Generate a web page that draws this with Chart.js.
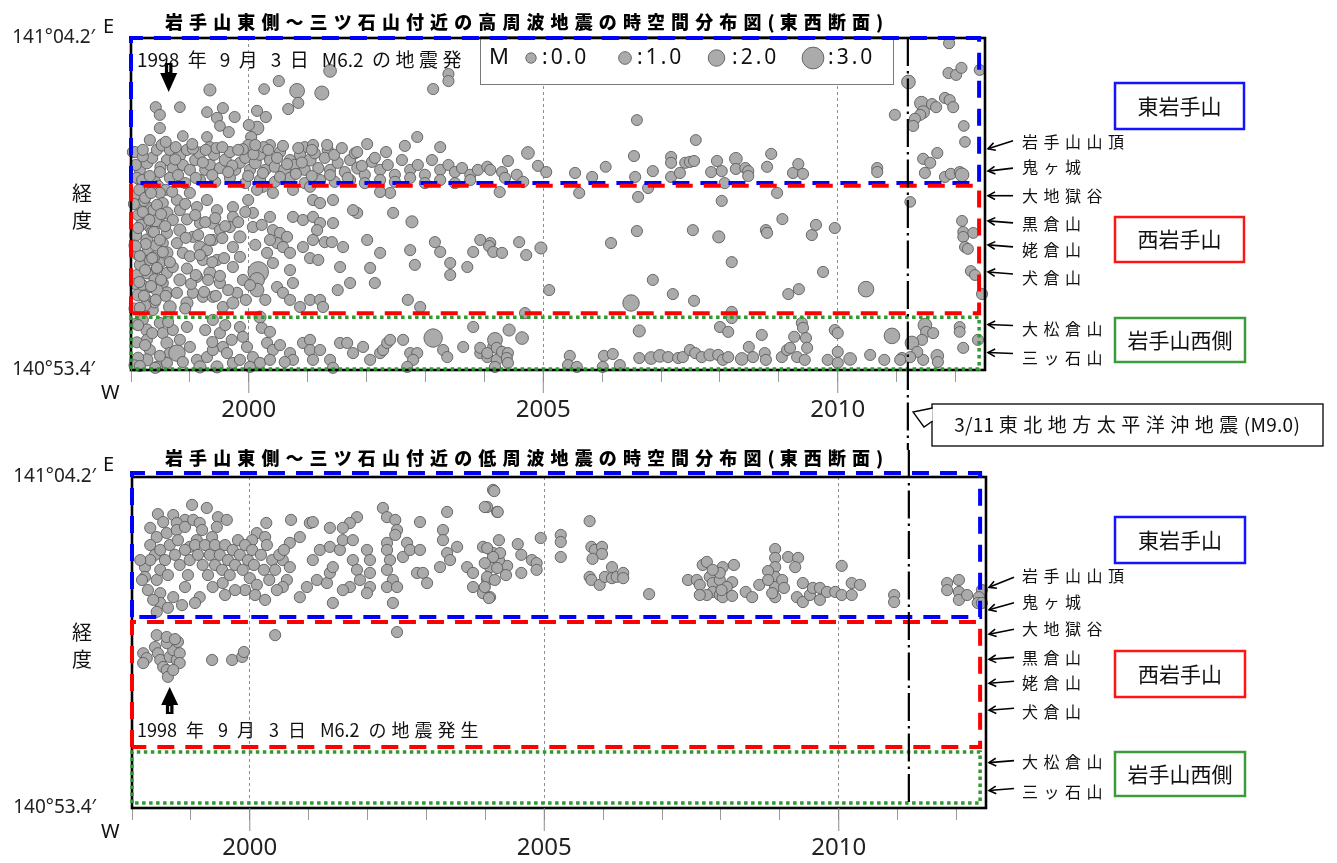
<!DOCTYPE html>
<html lang="ja">
<head>
<meta charset="utf-8">
<title>岩手山東側～三ツ石山付近の地震の時空間分布図</title>
<script src="https://cdn.jsdelivr.net/npm/chart.js@4.4.1/dist/chart.umd.min.js"></script>
<style>
  html, body { margin:0; padding:0; background:#fff; }
  #wrap { position:relative; width:1337px; height:863px; overflow:hidden; background:#fff; }
  #wrap canvas { position:absolute; left:0; }
  #c1 { top:0; width:1337px; height:450px; }
  #c2 { top:440px; width:1337px; height:423px; }
</style>
</head>
<body>
<div id="wrap">
  <canvas id="c1" width="1337" height="450"></canvas>
  <canvas id="c2" width="1337" height="423"></canvas>
</div>
<script>
// ---------------- texts / categories ----------------
const hfTitle = '岩手山東側～三ツ石山付近の高周波地震の時空間分布図(東西断面)';
const lfTitle = '岩手山東側～三ツ石山付近の低周波地震の時空間分布図(東西断面)';
const yearTicks = [1998,1999,2000,2001,2002,2003,2004,2005,2006,2007,2008,2009,2010,2011,2012];
const majorYears = [2000, 2005, 2010];
const lonTickValues = [53.4, 64.2];               // arc-minutes east of 140°
const lonTickLabels = ['140°53.4′', '141°04.2′'];
const mtnNames = ['岩手山山頂','鬼ヶ城','大地獄谷','黒倉山','姥倉山','犬倉山','大松倉山','三ッ石山'];
const mtnLon = [60.60, 59.87, 59.07, 58.25, 57.47, 56.59, 54.88, 53.97];
const regionNames = ['東岩手山','西岩手山','岩手山西側'];
const hfRegionLon = [[59.48, 64.20], [55.25, 59.39], [53.43, 55.12]];
const lfRegionLon = [[59.63, 64.33], [55.39, 59.47], [53.56, 55.23]];
const regionEdgeYear = 2012.40;
const quakeDate = 2011.19;
const quakeLabel = '3/11 東北地方太平洋沖地震(M9.0)';
const m62Date = 1998.64;
const m62LabelTop = '1998 年 9 月 3 日 M6.2 の地震発';
const m62LabelBottom = '1998 年 9 月 3 日 M6.2 の地震発生';
const legendMags = [0, 1, 2, 3];
const legendLabels = [':0.0', ':1.0', ':2.0', ':3.0'];

// ---------------- high-frequency events [year, lon(′ E of 140°), M] ----------------
const hfUpper = [
[2001.38,63.13,1.0],[2000.51,62.80,0.4],[2000.26,62.54,0.2],[2000.82,62.48,1.6],[2001.24,62.41,1.4],[1999.34,62.51,0.8],[2003.13,62.54,0.4],[2003.39,63.03,0.4],[2003.39,62.80,0.4],[1998.42,61.95,0.4],
[1998.49,61.70,0.4],[1998.83,61.95,0.2],[1998.49,61.27,0.4],[1999.29,61.79,0.2],[1999.46,61.60,0.4],[1999.56,61.92,0.4],[1999.76,61.63,0.4],[1999.51,61.34,0.2],[2000.14,61.83,0.4],[2000.29,61.63,0.4],
[2000.14,61.27,1.3],[2000.00,61.37,0.4],[2000.04,60.98,0.4],[2000.67,61.89,0.4],[2000.84,62.09,0.4],[1998.88,61.01,0.2],[1999.66,61.14,0.4],[1999.29,60.98,0.2],[2006.59,61.53,0.3],[2007.59,60.88,0.3],
[1999.34,60.65,0.4],[2000.36,60.72,0.3],[2000.95,60.65,0.4],[2001.09,60.72,0.4],[2001.34,60.56,0.4],[2002.01,60.75,0.4],[2002.65,60.69,0.4],[2002.86,60.98,0.4],[2003.25,60.65,0.4],[1999.99,60.72,0.4],[1998.03,60.49,0.3]
];
const hfEastBand = [
[1998.07,60.49,0.4],[1998.15,59.91,0.4],[1998.27,60.14,0.8],[1998.36,60.30,0.4],[1998.44,60.56,0.4],[1998.53,60.72,0.8],[1998.61,60.23,0.4],[1998.66,60.56,0.4],[1998.71,59.97,0.4],[1998.83,60.40,0.8],
[1998.88,60.07,0.4],[1998.95,60.56,0.4],[1999.00,59.91,0.4],[1999.09,60.23,0.4],[1999.17,60.46,0.8],[1999.26,59.91,0.4],[1999.34,60.07,0.4],[1999.41,60.40,0.4],[1999.51,59.97,0.4],[1999.60,60.23,0.8],
[1999.68,60.49,0.4],[1999.77,59.91,0.4],[1999.85,60.14,0.4],[1999.94,60.30,0.4],[2000.02,59.91,0.4],[2000.11,60.14,0.8],[2000.19,60.40,0.4],[2000.28,59.91,0.4],[2000.36,60.23,0.4],[2000.44,60.01,0.4],
[2000.53,60.49,0.4],[2000.61,59.91,0.8],[2000.70,60.23,0.4],[2000.78,60.07,0.4],[2000.87,60.40,0.4],[2000.95,59.91,0.4],[2001.04,60.23,0.8],[2001.18,59.97,0.4],[2001.29,60.30,0.4],[2001.38,59.91,0.4],
[2001.51,60.14,0.4],[2001.63,59.84,0.4],[2001.72,60.23,0.4],[2001.85,59.97,0.8],[2001.97,59.75,0.4],[2002.09,60.17,0.4],[2002.23,59.91,0.4],[2002.36,60.07,0.4],[2002.48,59.75,0.4],[2002.60,60.23,0.4],
[2002.74,59.91,0.4],[2002.87,60.07,0.4],[2002.99,59.75,0.4],[2003.11,60.23,0.4],[2003.25,59.91,0.4],[2003.39,60.07,0.4],[2003.50,59.84,0.4],[2003.62,59.97,0.4],[2003.76,59.75,0.4],[2003.89,59.91,0.4],
[1998.15,59.58,0.4],[1998.41,59.52,0.4],[1998.66,59.65,0.4],[1998.92,59.48,0.4],[1999.17,59.58,0.4],[1999.43,59.52,0.4],[1999.68,59.65,0.4],[1999.94,59.48,0.4],[2000.19,59.58,0.4],[2000.44,59.52,0.4],
[2000.70,59.65,0.4],[2000.95,59.48,0.4],[2001.21,59.58,0.4],[2001.46,59.52,0.4],[2001.72,59.58,0.4],[2001.97,59.48,0.4],[2002.23,59.58,0.4],[2002.48,59.52,0.4],[2002.74,59.65,0.4],[2002.99,59.48,0.4],
[2003.25,59.58,0.4],[2003.50,59.48,0.4],[2003.76,59.58,0.4],
[1998.20,60.35,0.4],[1998.50,60.00,0.4],[1998.75,60.25,0.4],[1999.05,60.60,0.4],[1999.22,60.15,0.4],[1999.45,60.62,0.4],[1999.72,60.05,0.4],[1999.90,60.58,0.4],[2000.08,60.42,0.4],[2000.25,60.65,0.4],
[2000.48,60.30,0.4],[2000.65,60.10,0.4],[2000.90,60.15,0.4],[2001.12,60.45,0.4],[2001.45,60.40,0.4],[2001.80,60.45,0.4],
[2004.74,60.46,1.0],[2004.40,60.20,0.4],[2004.91,60.04,0.4],[2005.05,59.84,0.4],[2004.05,60.01,0.4],[2004.10,59.91,0.4],[2004.30,59.84,0.4],[2004.35,59.65,0.4],[2004.55,59.75,0.4],[2004.66,59.52,0.4],
[2004.26,59.19,0.4],[2005.54,59.81,0.4],[2005.61,59.16,0.4],[2005.83,59.68,0.4],[2006.06,60.01,0.3],[2006.54,60.36,0.4],[2006.56,59.68,0.4],[2006.61,59.03,0.4],[2006.59,57.92,0.4],[2006.78,59.32,0.4],
[2006.86,59.87,0.4],[2007.17,60.33,0.4],[2007.17,60.14,0.4],[2007.17,59.68,0.4],[2007.32,59.81,0.4],[2007.41,60.14,0.4],[2007.49,60.17,0.4],[2007.56,60.20,0.4],[2007.85,59.84,0.4],[2007.95,60.20,0.4],
[2008.03,59.87,0.4],[2008.08,59.48,0.4],[2008.03,58.90,0.4],[2008.27,60.27,1.0],[2008.27,59.94,0.4],[2008.43,59.97,0.4],[2008.48,59.87,0.4],[2008.48,59.71,0.4],[2008.80,60.01,0.4],[2008.87,60.43,0.4],
[2008.97,59.16,0.4],[2009.06,58.31,0.4],[2009.24,59.81,0.4],[2009.33,60.10,0.4],[2009.41,59.78,0.4],[2010.67,59.97,0.4],[2010.67,59.84,0.4]
];
const hfEastBandDense = [
[1998.08,60.07,0.4],[1998.20,60.56,0.4],[1998.32,60.88,0.4],[1998.59,60.82,0.4],[1998.76,60.65,0.4],[1999.04,60.75,0.4],[1999.27,60.56,0.4],[1999.55,60.65,0.4],[1999.82,60.56,0.4],[2000.11,60.72,0.4],
[2000.33,60.56,0.4],[2000.58,60.69,0.4],[2000.84,60.62,0.4],[2001.07,60.56,0.4],[2001.33,60.72,0.4],[2001.58,60.62,0.4],[2001.84,60.49,0.4],[1998.10,59.65,0.4],[1998.49,59.84,0.4],[1998.80,59.74,0.4],
[1999.10,59.65,0.4],[1999.38,59.74,0.4],[1999.65,59.84,0.4],[1999.99,59.71,0.4],[2000.24,59.81,0.4],[2000.53,59.68,0.4],[2000.80,59.78,0.4],[2001.07,59.71,0.4],[2001.38,59.74,0.4],[2001.68,59.65,0.4],
[2001.92,60.04,0.4],[2002.14,60.30,0.4],[2002.33,60.49,0.4],[1998.19,59.58,0.4],[1998.46,59.39,0.4],[1998.59,59.26,0.4],[1998.32,59.71,0.4]
];
const hfWestIwate = [
[1998.20,59.03,0.4],[1998.27,58.70,0.8],[1998.29,58.38,0.4],[1998.32,58.05,0.4],[1998.27,57.63,0.8],[1998.29,57.30,0.4],[1998.32,56.98,0.4],[1998.27,56.56,0.8],[1998.32,56.10,0.4],[1998.27,55.68,0.4],[1998.37,55.35,0.4],
[1998.10,59.10,0.4],[1998.12,58.44,0.4],[1998.08,57.79,0.8],[1998.12,57.14,0.4],[1998.10,56.49,0.4],[1998.12,55.84,0.8],[1998.15,58.77,0.4],[1998.17,58.12,0.4],[1998.15,56.82,0.4],[1998.19,56.17,0.4],
[1998.49,59.16,0.4],[1998.54,58.83,0.4],[1998.61,58.51,0.8],[1998.49,58.18,0.4],[1998.61,57.86,0.4],[1998.54,57.53,0.4],[1998.61,57.21,0.8],[1998.49,56.88,0.4],[1998.61,56.56,0.4],[1998.54,56.23,0.4],[1998.61,55.91,0.8],[1998.66,55.45,1.0],
[1998.78,58.93,0.4],[1998.83,58.60,0.4],[1998.71,58.28,0.4],[1998.83,57.95,0.8],[1998.78,57.53,0.4],[1998.88,57.21,0.4],[1998.71,56.75,0.4],[1998.83,56.33,0.8],[1998.78,55.91,0.4],[1998.95,55.58,0.8],
[1999.00,59.16,0.4],[1999.12,58.70,0.4],[1999.17,58.18,0.4],[1999.05,57.73,0.4],[1999.17,57.40,0.8],[1999.22,56.98,0.4],[1999.12,56.43,0.4],[1999.05,55.91,0.4],[1999.22,55.78,0.4],
[1999.29,58.93,0.4],[1999.46,58.60,0.4],[1999.39,58.18,0.8],[1999.51,57.95,0.4],[1999.39,57.63,0.4],[1999.29,57.30,0.4],[1999.46,56.98,0.4],[1999.34,56.56,0.8],[1999.51,56.23,0.4],[1999.39,55.78,0.4],[1999.56,55.45,0.4],
[1999.73,58.70,0.4],[1999.73,58.38,0.4],[1999.68,58.05,0.4],[1999.85,57.73,0.8],[1999.73,57.40,0.4],[1999.85,57.08,0.4],[1999.73,56.75,0.4],[1999.90,56.33,0.4],[1999.80,55.91,0.4],[1999.73,55.58,0.8],
[1999.99,58.93,0.4],[2000.07,58.51,0.4],[2000.07,58.05,0.4],[2000.16,56.59,2.8],[2000.14,56.33,1.6],[2000.14,56.00,1.3],[2000.19,55.12,0.8],
[2000.24,59.36,0.4],[2000.41,59.16,0.4],[2000.36,58.38,0.4],[2000.41,57.95,0.4],[2000.53,57.86,0.4],[2000.65,57.73,0.4],[2000.48,57.53,0.4],[2000.58,57.40,0.4],[2000.70,57.21,0.4],[2000.31,57.21,0.4],
[2000.41,56.88,0.4],[2000.70,56.65,0.4],[2000.75,56.23,0.4],[2000.48,56.10,0.4],[2000.58,55.91,0.4],[2000.70,55.68,0.4],[2000.87,55.45,0.4],[2001.04,55.68,0.4],[2001.21,55.68,0.4],[2001.26,55.45,0.4],
[2000.75,58.38,0.4],[2000.92,58.28,0.4],[2001.09,58.38,0.4],[2001.21,58.18,0.4],[2001.16,57.95,0.4],[2001.09,57.63,0.4],[2001.43,58.18,0.4],[2001.84,58.51,0.4],[2001.77,58.60,0.4],[2002.01,57.63,0.4],[2002.45,58.51,0.4],[2002.77,58.22,0.8],
[2001.60,57.40,0.4],[2001.55,56.75,0.4],[2001.72,56.23,0.4],[2002.23,57.21,0.4],[2002.06,56.72,0.4],[2002.14,56.23,0.4],[2001.51,56.00,0.4],[2002.74,57.30,0.4],[2002.82,56.82,0.4],[2002.70,55.68,0.4],[2002.91,55.45,0.4],
[2000.92,57.40,0.4],[2001.04,57.04,0.4],[2001.18,56.98,0.4],[2001.29,57.56,0.4],[2001.41,57.56,0.4],[2003.16,57.56,0.4],[2003.25,57.24,0.4],[2003.42,56.88,0.4],[2003.42,56.49,0.4],[2003.71,56.75,0.4],[2003.81,57.24,0.4],[2004.10,57.53,0.4],
[2002.40,59.16,0.4],[2002.23,59.19,0.4],[2000.14,59.26,0.4],[2000.75,59.26,0.4],[2001.04,59.36,0.4],[2001.09,58.93,0.4],[2001.21,58.83,0.4],[2001.43,58.93,0.4],
[1998.22,58.90,0.4],[1998.38,58.60,0.4],[1998.42,58.25,0.8],[1998.36,57.90,0.4],[1998.42,57.45,0.4],[1998.38,57.05,0.8],[1998.44,56.70,0.4],[1998.40,56.35,0.4],[1998.44,56.00,0.8],[1998.40,55.60,0.4],[1998.24,55.50,0.4],[1998.06,55.40,0.4],
[1998.05,58.80,0.4],[1998.06,57.45,0.4],[1998.07,56.20,0.4],[1998.30,59.25,0.4],[1998.70,59.20,0.4],[1998.92,58.80,0.4],[1998.95,58.30,0.4],[1998.93,57.70,0.4],[1999.00,57.10,0.4],[1998.95,56.70,0.4],[1999.02,56.20,0.4],[1998.92,55.40,0.4],
[2003.93,57.63,0.4],[2004.08,57.43,0.4],[2004.15,57.24,0.4],[2004.30,57.21,0.4],[2004.59,57.56,0.4],[2004.71,57.14,0.4],[2004.96,57.37,0.8],[2006.15,57.53,0.4],[2005.10,56.00,0.4],[2006.86,56.33,0.4],
[2007.20,55.87,0.4],[2007.56,55.65,0.4],[2006.49,55.58,2.0],[2007.54,57.95,0.4],[2007.98,57.73,0.8],[2008.20,56.91,0.4],[2008.78,57.95,0.4],[2008.80,57.86,0.4],[2009.56,57.79,0.4],[2009.63,58.12,0.4],
[2009.95,58.02,0.4],[2009.75,56.59,0.4],[2009.16,55.87,0.4],[2009.34,56.03,0.4],[2010.48,56.03,1.8],[2004.69,55.25,0.4],[2008.20,55.29,0.4]
];
const hfWestIwateDense = [
[1998.14,59.26,0.4],[1998.24,59.00,0.4],[1998.34,59.16,0.4],[1998.44,58.77,0.4],[1998.20,58.54,0.4],[1998.31,58.28,0.4],[1998.51,58.47,0.4],[1998.12,58.02,0.4],[1998.39,57.89,0.4],[1998.25,57.50,0.4],
[1998.49,57.63,0.4],[1998.15,57.11,0.4],[1998.36,57.04,0.4],[1998.54,57.24,0.4],[1998.24,56.65,0.4],[1998.44,56.72,0.4],[1998.14,56.26,0.4],[1998.34,56.13,0.4],[1998.51,56.33,0.4],[1998.22,55.81,0.4],
[1998.42,55.68,0.4],[1998.15,55.42,0.4],[1998.59,55.81,0.4],[1998.58,58.08,0.4],[1998.66,56.91,0.4],[1998.08,57.43,0.4],
[1999.09,58.44,0.4],[1999.26,58.21,0.4],[1999.43,58.34,0.4],[1999.60,58.08,0.4],[1999.14,57.79,0.4],[1999.34,57.63,0.4],[1999.55,57.69,0.4],[1999.17,57.14,0.4],[1999.38,56.91,0.4],[1999.58,57.04,0.4],
[1999.10,56.49,0.4],[1999.31,56.33,0.4],[1999.51,56.46,0.4],[1999.24,55.94,0.4],[1999.44,55.81,0.4],[1999.65,56.00,0.4],[1999.94,58.54,0.4],[1999.82,58.21,0.4],[2000.22,58.12,0.4],[2000.36,57.63,0.4],
[2000.11,57.47,0.4],[1999.95,55.68,0.4],[2000.02,56.16,0.4],[2000.28,55.68,0.4]
];
const hfWestSide = [
[1998.20,55.03,0.4],[1998.27,54.70,0.8],[1998.27,54.38,0.4],[1998.32,54.05,0.4],[1998.27,53.73,0.8],[1998.44,53.50,0.4],[1998.49,54.93,0.4],[1998.54,54.60,0.4],[1998.61,54.28,0.8],[1998.66,53.95,0.4],
[1998.61,53.63,0.4],[1998.71,54.70,0.4],[1998.78,53.95,2.0],[1998.95,54.80,0.4],[1999.00,54.15,0.4],[1999.12,53.73,0.4],[1999.17,53.50,0.8],[1999.29,53.82,0.4],[1999.39,55.03,0.4],[1999.51,54.60,0.4],
[1999.56,54.15,0.4],[1999.39,54.05,0.4],[1999.63,53.95,0.4],[1999.46,53.50,0.8],[1999.73,53.63,0.4],[1999.85,54.80,0.4],[1999.90,54.48,0.4],[1999.97,54.15,0.4],[2000.07,53.82,0.4],[2000.19,53.63,0.4],
[2000.02,53.50,0.4],[2000.31,54.28,0.4],[2000.41,54.05,0.4],[2000.36,53.73,0.4],[2000.70,53.95,0.4],[2000.75,53.73,0.4],[2000.92,54.28,0.4],[2001.04,54.38,0.4],[2001.04,54.05,0.4],[2001.09,53.73,0.4],
[2001.21,54.05,0.4],[2001.38,53.73,0.4],[2001.55,54.28,0.4],[2001.67,54.28,0.4],[2001.77,53.95,0.4],[2001.94,54.15,0.4],[2002.06,53.73,0.4],[2002.23,53.95,0.4],[2002.28,54.05,0.4],[2002.35,54.28,0.4],
[2002.40,54.38,0.4],[2002.62,54.38,0.4],[2002.74,53.95,0.4],[2002.86,53.95,0.4],[2002.79,53.73,0.4],[2002.69,53.50,0.4],[2003.13,54.44,2.4],[2003.30,54.05,0.4],[2003.37,53.82,0.4],[2003.64,54.15,0.4],
[2003.81,54.80,0.4],[2003.93,53.95,0.4],[2004.05,53.82,0.4],[2004.15,54.15,0.4],[2004.21,53.73,0.4],[2001.43,53.47,0.4],
[1998.08,54.90,0.4],[1998.10,54.30,0.4],[1998.12,53.80,0.4],[1998.06,53.55,0.4],
[1998.12,54.86,0.4],[1998.24,54.21,0.4],[1998.36,54.60,0.4],[1998.49,53.86,0.4],[1998.41,53.47,0.4],[1998.63,54.96,0.4],[1998.83,54.38,0.4],[1998.88,53.66,0.4],[1998.15,53.53,0.4],[1999.26,54.70,0.4],
[1999.38,54.31,0.4],[1999.60,54.86,0.4],[1999.71,54.38,0.4],[2000.22,54.77,0.4],[2000.36,54.64,0.4],[2000.53,54.21,0.4],[2000.61,53.66,0.4],[1999.85,53.73,0.4],
[2004.42,54.70,0.8],[2004.18,54.38,1.6],[2004.64,54.44,1.0],[2003.93,54.12,0.4],[2004.05,53.95,0.4],[2004.21,54.12,0.4],[2004.30,53.99,0.4],[2004.40,53.95,0.4],[2004.38,53.79,0.4],[2004.40,53.63,0.4],
[2004.18,53.50,0.4],[2005.45,53.86,0.4],[2005.42,53.56,0.4],[2005.57,53.50,0.4],[2006.03,53.86,0.4],[2006.18,53.92,0.4],[2006.30,53.56,0.4],[2006.01,53.50,0.4],[2006.63,54.67,0.8],[2006.63,53.79,0.4],
[2006.83,53.79,1.0],[2006.98,53.86,1.0],[2007.12,53.82,0.4],[2007.29,53.79,0.4],[2007.37,53.82,0.4],[2007.49,54.05,0.4],[2007.58,53.95,0.4],[2007.69,53.82,0.4],[2007.83,53.89,0.8],[2007.97,53.89,0.4],
[2008.05,53.73,0.4],[2008.14,53.82,0.4],[2008.00,54.80,0.4],[2008.14,54.64,0.4],[2008.20,55.09,0.4],[2008.37,53.76,1.0],[2008.49,54.15,0.4],[2008.56,53.82,0.4],[2008.71,54.54,0.4],[2008.76,53.95,0.4],
[2008.78,53.73,0.4],[2009.05,53.82,0.4],[2009.14,54.05,0.4],[2009.19,54.12,0.4],[2009.26,54.48,0.4],[2009.31,53.82,0.4],[2009.39,54.93,0.4],[2009.41,54.77,0.4],[2009.46,54.44,0.4],[2009.48,54.12,0.4],
[2009.44,53.73,0.4],[2009.83,53.73,0.4],[2009.95,54.70,0.4],[2010.00,54.60,0.4],[2010.00,53.99,0.4],[2010.00,53.63,0.4],[2010.21,53.76,1.0],[2010.55,53.89,0.4],[2011.09,53.79,0.4]
];
const hfLate = [
[2011.89,64.03,0.4],[2012.41,63.16,0.3],[2011.88,63.06,0.4],[2012.01,63.00,0.4],[2012.10,63.23,0.4],[2011.20,62.77,1.3],[2011.42,62.08,1.3],[2011.60,62.05,0.4],[2011.67,61.95,0.4],[2011.82,62.25,0.4],
[2011.90,62.18,0.4],[2011.96,61.95,0.4],[2010.97,61.70,0.4],[2011.45,61.79,1.0],[2011.40,61.70,0.4],[2011.31,61.57,0.4],[2011.28,61.34,0.4],[2012.14,61.34,0.2],[2012.16,60.82,0.2],[2011.69,60.46,0.4],
[2011.45,60.27,0.4],[2011.57,60.14,0.4],[2011.48,59.81,0.4],[2011.82,59.68,0.4],[2011.92,59.78,0.4],[2012.07,59.84,0.4],[2012.11,59.75,1.3],[2011.23,58.87,0.2],[2012.11,58.25,0.3],[2012.13,57.89,0.3],
[2012.13,57.73,0.3],[2012.30,57.86,0.3],[2012.16,57.40,0.3],[2012.21,57.34,0.3],[2012.26,56.62,0.3],[2012.33,56.49,0.3],[2012.45,55.87,0.4],[2011.48,54.86,1.3],[2011.50,54.64,0.4],[2011.62,54.60,0.4],
[2011.43,54.38,0.4],[2011.26,54.28,1.3],[2010.92,54.51,1.8],[2012.07,54.80,0.3],[2012.07,54.64,0.3],[2012.13,54.12,0.4],[2012.38,54.38,0.4],[2011.69,53.86,1.0],[2011.70,53.66,0.4],[2011.45,53.73,0.4],
[2011.35,53.99,0.4],[2011.23,53.82,0.4],[2011.06,53.73,0.4],[2010.79,53.73,0.4]
];

// ---------------- low-frequency events [year, lon] ----------------
const lfEast = [
[1999.02,63.29],[1999.27,63.19],[1998.44,62.99],[1998.70,62.96],[1998.90,62.80],[1998.76,62.70],[1998.53,62.73],[1998.31,62.54],[1998.42,62.24],[1998.59,62.37],
[1998.76,62.47],[1998.90,62.57],[1999.04,62.80],[1999.15,62.70],[1999.46,62.89],[1999.61,62.80],[1999.44,62.57],[1999.36,62.24],[1999.19,62.47],[1999.10,62.14],
[1998.98,61.92],[1998.22,61.26],[1998.22,60.94],[1998.42,60.84],[1998.48,60.41],[1998.48,60.09],[1998.70,60.28],[1998.90,60.61],[1999.15,60.28],[1999.37,60.61],
[1999.54,60.74],[2000.28,62.70],[2000.12,62.37],[2000.04,62.14],[2000.26,62.24],[2000.70,62.80],[2001.02,62.70],[2001.07,62.73],[2000.85,62.24],[2000.68,62.05],
[2000.56,61.49],[2000.68,61.26],[2000.63,60.84],[2000.56,60.61],[2000.85,60.28],[2000.97,60.61],[2001.14,60.84],[2001.31,60.74],[2001.36,61.07],[2001.41,61.26],
[2001.07,61.49],[2001.19,61.82],[2001.36,61.92],[2001.53,61.82],[2001.58,62.14],[2001.75,62.14],[2001.82,62.89],[2001.70,62.70],[2001.58,62.54],[2001.36,62.54],
[2001.41,60.09],[2001.75,61.49],[2001.82,61.17],[2001.87,60.84],[2001.70,60.61],[2001.58,60.51],[2001.99,61.82],[2002.04,61.49],[2002.04,61.07],[2002.04,60.61],
[2001.99,60.41],[2002.26,63.19],[2002.33,62.89],[2002.47,62.80],[2002.50,62.47],[2002.47,62.31],[2002.33,62.05],[2002.33,61.82],[2002.38,61.49],[2002.33,61.17],
[2002.43,60.84],[2002.33,60.61],[2002.50,60.61],[2002.43,60.09],[2002.67,62.05],[2002.60,61.59],[2002.72,61.82],[2002.89,61.82],[2002.89,62.73],[2002.84,61.07],
[2002.94,61.07],[2003.01,60.74],[2003.35,63.06],[2003.28,62.47],[2003.23,61.26],[2003.28,62.14],[2003.35,61.72],[2003.40,61.49],[2003.52,61.92],[2003.69,61.26],
[2003.79,61.07],[2003.79,60.61],[2003.96,60.41],[2004.03,60.84],[2004.08,61.26],[2004.13,61.72],[2003.96,61.92],[2004.03,63.22],[2004.13,63.78],[2004.20,63.06],
[2004.08,60.28],[2004.23,62.14],
[1998.31,61.98],[1998.39,61.66],[1998.31,61.49],[1998.48,61.82],[1998.56,61.49],[1998.64,61.98],[1998.48,61.17],[1998.61,61.00],[1998.73,61.66],[1998.81,61.33],
[1998.78,62.14],[1998.90,61.82],[1998.98,61.49],[1998.95,61.00],[1999.07,61.98],[1999.12,61.66],[1999.20,61.33],[1999.24,61.98],[1999.29,61.00],[1999.32,61.66],
[1999.41,61.33],[1999.41,61.98],[1999.49,61.66],[1999.53,61.17],[1999.58,61.98],[1999.63,61.49],[1999.66,61.00],[1999.71,61.82],[1999.75,61.33],[1999.80,62.14],
[1999.83,61.66],[1999.88,61.17],[1999.92,61.98],[1999.97,61.49],[2000.00,60.90],[2000.04,61.82],[2000.07,61.33],[2000.12,60.68],[2000.19,61.66],[2000.24,61.17],
[2000.29,61.98],[2000.33,60.84],[2000.38,61.49],[2000.43,61.17],[2000.50,61.66],[2000.46,60.51],[2000.58,61.82],[1999.92,60.51],[2000.09,60.35],[2000.26,60.19],
[1999.75,60.51],[1999.58,60.35],[1998.14,61.49],[1998.17,60.84],[1998.27,60.51],[1998.36,60.19],[1998.42,59.80],[1998.61,59.93],[1998.85,60.02],[1999.07,60.09],
[2004.15,63.74],[2003.99,63.22],[2004.21,63.06],[2004.55,62.01],[2004.61,61.66],[2004.79,61.49],[2004.87,61.39],[2004.87,61.17],[2004.94,62.21],[2004.61,61.07],
[2004.37,61.30],[2004.35,61.00],[2004.23,61.49],[2004.25,61.72],[2004.13,61.59],[2004.03,61.88],[2003.99,61.39],[2004.03,60.94],[2003.99,60.61],[2004.06,60.25],
[2004.20,61.23],[2004.16,60.84],[2005.28,62.31],[2005.28,62.08],[2005.28,61.59],[2005.77,62.76],[2005.80,61.92],[2005.86,61.82],[2005.98,61.92],[2005.98,61.69],
[2005.82,61.53],[2005.77,60.94],[2005.80,60.84],[2005.94,60.68],[2006.03,60.94],[2006.15,61.26],[2006.15,60.90],[2006.23,60.94],[2006.34,61.07],[2006.34,60.90],
[2006.78,60.38],[2007.44,60.84],[2007.59,60.84],[2007.69,61.33],[2007.76,61.43],[2007.64,60.68],[2007.81,60.94],[2007.86,60.74],[2007.98,60.84],[2008.03,61.26],
[2007.98,61.07],[2008.22,61.33],[2008.19,60.77],[2007.86,60.45],[2007.76,60.35],[2007.64,60.35],[2007.98,60.35],[2008.03,60.28],[2008.10,60.61],[2008.19,60.32],
[2007.86,61.17],[2008.01,60.51],[2008.42,60.45],[2008.53,60.28],[2008.65,60.68],[2008.92,61.85],[2008.92,61.56],[2008.92,61.26],[2008.92,60.94],[2008.92,60.61],
[2008.92,60.28],[2008.80,61.13],[2008.80,60.84],[2009.04,60.84],[2009.07,60.58],[2008.87,60.41],[2009.14,61.59],[2009.31,61.56],[2009.26,61.26],[2009.39,60.74],
[2009.29,60.28],[2009.39,60.12],[2009.51,60.35],[2009.56,60.58],[2009.68,60.58],[2009.68,60.19],[2009.80,60.45],[2009.94,60.45],[2010.05,60.35],[2010.05,61.30],
[2010.22,60.74],[2010.36,60.68],[2010.22,60.35],[2010.94,60.35],[2010.94,60.12],[2011.84,60.74],[2011.84,60.51],[2012.04,60.84],[2012.04,60.45],[2012.04,60.19],
[2012.18,60.35],[2012.43,60.51],[2012.38,60.28],[2012.36,60.09],[2012.43,60.09]
];
const lfWest = [
[1998.19,58.45],[1998.25,58.29],[1998.19,58.13],[1998.39,58.65],[1998.44,58.45],[1998.48,58.23],[1998.53,58.00],[1998.59,57.90],[1998.61,57.68],[1998.64,58.33],
[1998.70,58.55],[1998.76,58.23],[1998.81,58.45],[1998.81,58.13],[1998.70,57.90],[1998.59,58.78],[1998.78,58.82],[1998.42,59.04],[1998.59,58.98],[1998.73,58.91],
[2000.43,59.04],[1999.36,58.23],[1999.70,58.23],[1999.87,58.33],[1999.90,58.49],[2002.50,59.14]
];

// ---------------- drawing helpers ----------------
const FONT_JP = '"Noto Sans CJK JP", "Noto Sans", sans-serif';
const FONT_LAT = '"Noto Sans", "Noto Sans CJK JP", sans-serif';
const POINT_FILL = '#ababab', POINT_EDGE = '#5e5e5e';
const boxStyles = [
  { color: '#0000ff', width: 4, dash: [17, 11] },
  { color: '#ff0000', width: 4, dash: [17, 11] },
  { color: '#2f9a2f', width: 3.5, dash: [3.5, 3.5] }
];
const labelBoxColors = ['#1414ff', '#ff1414', '#3c9c3c'];
function magRadius(m) { return 5.2 + 0.775 * m + 0.375 * m * m; }

function isWide(ch) { const c = ch.codePointAt(0); return (c >= 0x2E80 && c <= 0x9FFF) || (c >= 0xFF00 && c <= 0xFFEF); }
function spacedText(ctx, text, x, y, o) {
  ctx.save();
  ctx.font = (o.weight || 400) + ' ' + o.size + 'px ' + (o.family || FONT_JP);
  ctx.fillStyle = o.color || '#111';
  ctx.textBaseline = 'middle';
  ctx.textAlign = 'left';
  const items = []; let total = 0;
  for (const ch of text) {
    let gw, adv;
    if (ch === ' ') { gw = ctx.measureText(' ').width; adv = (o.space != null) ? o.space : gw; }
    else { gw = ctx.measureText(ch).width; adv = gw + (isWide(ch) ? (o.cjk || 0) : (o.latin || 0)); }
    items.push([ch, adv, gw]); total += adv;
  }
  if (items.length) { const l = items[items.length - 1]; total -= (l[1] - l[2]); }
  let cx = o.align === 'center' ? x - total / 2 : x;
  for (const [ch, adv] of items) { if (ch !== ' ') ctx.fillText(ch, cx, y); cx += adv; }
  ctx.restore();
}
function strokeLine(ctx, x1, y1, x2, y2, color, width, dash) {
  ctx.save(); ctx.strokeStyle = color; ctx.lineWidth = width; ctx.setLineDash(dash || []);
  ctx.beginPath(); ctx.moveTo(x1, y1); ctx.lineTo(x2, y2); ctx.stroke(); ctx.restore();
}
function openArrow(ctx, tx, ty, fx, fy) {
  strokeLine(ctx, fx, fy, tx, ty, '#000', 1.6);
  const ang = Math.atan2(ty - fy, tx - fx), L = 8;
  ctx.save(); ctx.strokeStyle = '#000'; ctx.lineWidth = 1.6; ctx.beginPath();
  ctx.moveTo(tx - L * Math.cos(ang - 0.5), ty - L * Math.sin(ang - 0.5));
  ctx.lineTo(tx, ty);
  ctx.lineTo(tx - L * Math.cos(ang + 0.5), ty - L * Math.sin(ang + 0.5));
  ctx.stroke(); ctx.restore();
}
function blockArrow(ctx, x, tipY, baseY, endY) {
  ctx.save(); ctx.fillStyle = '#000'; ctx.beginPath();
  ctx.moveTo(x, tipY); ctx.lineTo(x + 8.5, baseY); ctx.lineTo(x + 3.8, baseY); ctx.lineTo(x + 3.8, endY);
  ctx.lineTo(x - 3.8, endY); ctx.lineTo(x - 3.8, baseY); ctx.lineTo(x - 8.5, baseY); ctx.closePath(); ctx.fill();
  const s = baseY > endY ? 1 : -1;
  strokeLine(ctx, x, endY + 2 * s, x, baseY - 1 * s, '#fff', 1.1);
  ctx.restore();
}
function bubble(ctx, x, y, r) {
  ctx.save(); ctx.fillStyle = POINT_FILL; ctx.strokeStyle = POINT_EDGE; ctx.lineWidth = 0.9;
  ctx.beginPath(); ctx.arc(x, y, r, 0, Math.PI * 2); ctx.fill(); ctx.stroke(); ctx.restore();
}

function decor(cfg) {
  const off = cfg.offsetY; const Y = v => v - off;
  return {
    id: 'decor_' + cfg.name,
    afterDatasetsDraw(chart) {
      const ctx = chart.ctx, a = chart.chartArea, xs = chart.scales.x, ys = chart.scales.y;
      spacedText(ctx, cfg.m62Text, 137, Y(cfg.m62TextY), cfg.m62Font);
      const ax = xs.getPixelForValue(m62Date);
      blockArrow(ctx, ax, Y(cfg.m62Arrow[0]), Y(cfg.m62Arrow[1]), Y(cfg.m62Arrow[2]));
      if (cfg.legend) {
        const bx = 480, by = Y(36), bw = 413, bh = 48;
        ctx.save(); ctx.fillStyle = '#fff'; ctx.fillRect(bx, by, bw, bh);
        ctx.strokeStyle = '#7a7a7a'; ctx.lineWidth = 1; ctx.strokeRect(bx + 0.5, by + 0.5, bw, bh); ctx.restore();
        spacedText(ctx, 'M', 489, Y(58), { size: 22, family: FONT_LAT, color: '#111' });
        const cxs = [531, 625, 716.5, 813], txs = [542, 637, 732, 828];
        legendMags.forEach((m, i) => {
          bubble(ctx, cxs[i], Y(58), magRadius(m));
          spacedText(ctx, legendLabels[i], txs[i], Y(58), { size: 21, family: FONT_LAT, latin: 3, color: '#111' });
        });
      }
      ctx.save(); ctx.strokeStyle = '#000'; ctx.lineWidth = 2.6;
      ctx.strokeRect(a.left, a.top, a.right - a.left, a.bottom - a.top); ctx.restore();
      const xr = xs.getPixelForValue(regionEdgeYear);
      cfg.regions.forEach((r, i) => {
        const st = boxStyles[i]; const yt = ys.getPixelForValue(r[1]), yb = ys.getPixelForValue(r[0]);
        ctx.save(); ctx.strokeStyle = st.color; ctx.lineWidth = st.width; ctx.setLineDash(st.dash); ctx.lineCap = 'butt';
        ctx.beginPath(); ctx.moveTo(a.left, yb); ctx.lineTo(a.left, yt); ctx.lineTo(xr, yt); ctx.lineTo(xr, yb); ctx.lineTo(a.left, yb);
        ctx.stroke(); ctx.restore();
      });
      const xq = xs.getPixelForValue(quakeDate);
      strokeLine(ctx, xq, Y(cfg.qLine[0]), xq, Y(cfg.qLine[1]), '#000', 2.2, [28, 5, 2.5, 5]);
    },
    afterDraw(chart) {
      const ctx = chart.ctx, a = chart.chartArea, xs = chart.scales.x, ys = chart.scales.y;
      spacedText(ctx, cfg.title, 165, Y(cfg.titleY), { size: 18, weight: 900, cjk: 6.1, latin: 5, color: '#000' });
      spacedText(ctx, 'E', 103, Y(cfg.eY), { size: 20, family: FONT_LAT, color: '#111' });
      spacedText(ctx, 'W', 101, Y(cfg.wY), { size: 20, family: FONT_LAT, color: '#111' });
      spacedText(ctx, '経', 82, Y(cfg.keiY), { size: 20, align: 'center', color: '#111' });
      spacedText(ctx, '度', 82, Y(cfg.keiY + 27), { size: 20, align: 'center', color: '#111' });
      majorYears.forEach(v => { const x = xs.getPixelForValue(v); strokeLine(ctx, x, a.bottom, x, a.bottom + 23, '#8c8c8c', 1); });
      mtnNames.forEach((n, i) => {
        const ty = ys.getPixelForValue(mtnLon[i]);
        openArrow(ctx, a.right + 3, ty, a.right + 28, ty + cfg.tailDy[i]);
        spacedText(ctx, n, 1022, ty + cfg.textDy[i], { size: 16, cjk: 5.5, color: '#111' });
      });
      cfg.labelBoxes.forEach((b, i) => {
        ctx.save(); ctx.strokeStyle = labelBoxColors[i]; ctx.lineWidth = 2.5;
        ctx.strokeRect(b[0], Y(b[1]), b[2] - b[0], b[3] - b[1]); ctx.restore();
        spacedText(ctx, regionNames[i], (b[0] + b[2]) / 2, Y((b[1] + b[3]) / 2), { size: 21, align: 'center', color: '#111' });
      });
      if (cfg.callout) {
        ctx.save(); ctx.fillStyle = '#fff'; ctx.strokeStyle = '#000'; ctx.lineWidth = 1.3;
        ctx.fillRect(932, Y(404), 391, 42); ctx.strokeRect(932, Y(404), 391, 42);
        ctx.beginPath(); ctx.moveTo(932.6, Y(408)); ctx.lineTo(913, Y(412)); ctx.lineTo(924, Y(427)); ctx.lineTo(932.6, Y(421));
        ctx.fill(); ctx.stroke(); ctx.restore();
        spacedText(ctx, quakeLabel, 1127, Y(425), { size: 19, cjk: 5.5, latin: 0.3, align: 'center', color: '#111' });
      }
    }
  };
}

function makeChart(id, cfg) {
  const canvas = document.getElementById(id);
  const H = canvas.height, off = cfg.offsetY, area = cfg.area;
  return new Chart(canvas, {
    type: 'bubble',
    data: { datasets: [{ data: cfg.points, backgroundColor: POINT_FILL, borderColor: POINT_EDGE, borderWidth: 0.9, clip: false }] },
    options: {
      responsive: false, maintainAspectRatio: false, animation: false, devicePixelRatio: 1, events: [],
      layout: { padding: { left: 0, right: 1337 - area.right, top: area.top - off, bottom: 0 } },
      plugins: { legend: { display: false }, tooltip: { enabled: false }, title: { display: false } },
      scales: {
        x: {
          type: 'linear', position: 'bottom', min: 1998, max: 2012.5,
          afterFit: s => { s.height = H - (area.bottom - off); },
          afterBuildTicks: s => { s.ticks = yearTicks.map(v => ({ value: v })); },
          ticks: { autoSkip: false, maxRotation: 0, minRotation: 0, padding: 14, color: '#222',
                   font: { family: FONT_LAT, size: 24 },
                   callback: v => majorYears.includes(v) ? String(v) : '' },
          grid: { display: true, drawOnChartArea: true, drawTicks: true, tickLength: 12, tickWidth: 1, tickColor: '#9a9a9a',
                  lineWidth: 1, color: c => (c.tick && majorYears.includes(c.tick.value)) ? '#8c8c8c' : 'rgba(0,0,0,0)' },
          border: { display: false, dash: [3, 3] }
        },
        y: {
          type: 'linear', position: 'left', min: 53.4, max: 64.2,
          afterFit: s => { s.width = area.left; },
          afterBuildTicks: s => { s.ticks = lonTickValues.map(v => ({ value: v })); },
          ticks: { padding: 0, color: '#222', font: { family: FONT_LAT, size: 19 },
                   callback: v => { const i = lonTickValues.indexOf(v); return i >= 0 ? lonTickLabels[i] : ''; } },
          grid: { display: false, drawTicks: true, tickLength: 36 },
          border: { display: false }
        }
      }
    },
    plugins: [decor(cfg)]
  });
}

const hfPoints = [].concat(hfUpper, hfEastBand, hfEastBandDense, hfWestIwate, hfWestIwateDense, hfWestSide, hfLate)
  .map(([x, y, m]) => ({ x, y, r: magRadius(m) }));
const lfPoints = [].concat(lfEast, lfWest).map(([x, y]) => ({ x, y, r: 5.6 }));

makeChart('c1', {
  name: 'hf', offsetY: 0, points: hfPoints, title: hfTitle, titleY: 22,
  area: { left: 131, top: 38, right: 985, bottom: 370 },
  regions: hfRegionLon, legend: true, callout: true,
  m62Text: m62LabelTop, m62TextY: 60, m62Font: { size: 19, cjk: 4.5, space: 8.5, color: '#111' },
  m62Arrow: [92, 73, 63],
  qLine: [38, 450],
  eY: 27, wY: 393, keiY: 193,
  textDy: [-7, -4, 0, 3, 5, 6, 4, 5], tailDy: [-8, -3, 0, 2, 2, 2, 1, 1],
  labelBoxes: [[1115, 83, 1244, 129], [1115, 217, 1244, 262], [1115, 318, 1245, 362]]
});
makeChart('c2', {
  name: 'lf', offsetY: 440, points: lfPoints, title: lfTitle, titleY: 458,
  area: { left: 132, top: 477, right: 986, bottom: 808 },
  regions: lfRegionLon, legend: false, callout: false,
  m62Text: m62LabelBottom, m62TextY: 730, m62Font: { size: 18, cjk: 5, space: 9, color: '#111' },
  m62Arrow: [687, 705, 714],
  qLine: [450, 805],
  eY: 465, wY: 832, keiY: 632,
  textDy: [-11, -8, -5, -1, 0, 2, -1, 1], tailDy: [-10, -7, -5, -2, -2, -2, -2, -2],
  labelBoxes: [[1115, 517, 1245, 563], [1115, 651, 1245, 697], [1115, 752, 1245, 796]]
});
</script>
</body>
</html>
